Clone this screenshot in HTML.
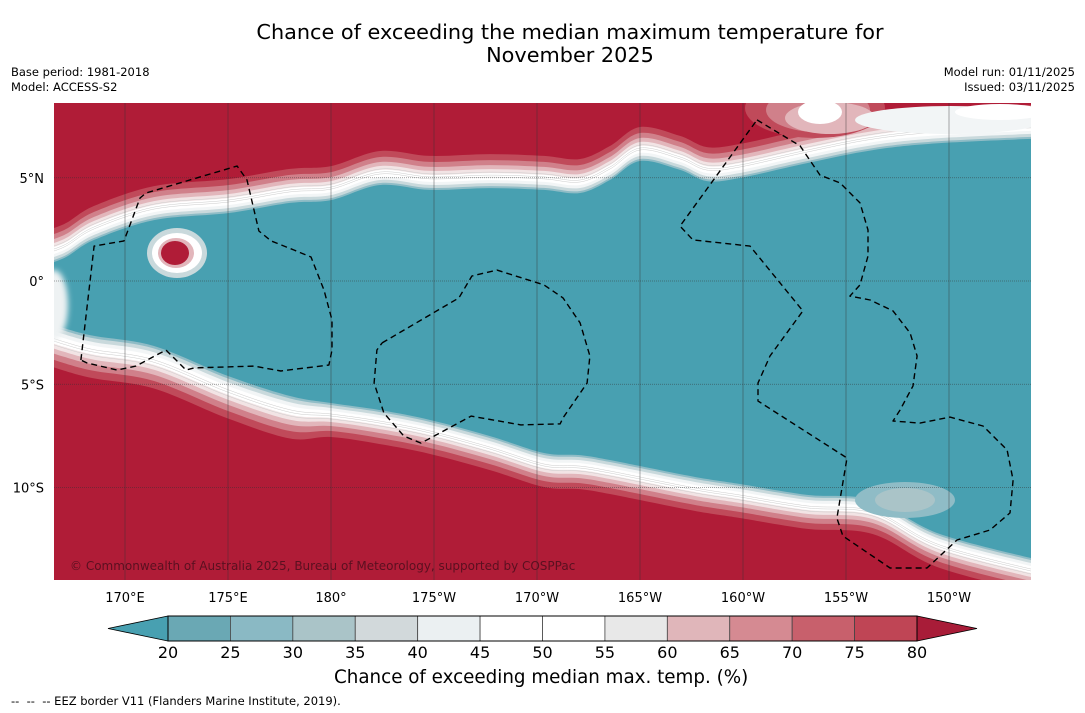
<!DOCTYPE html>
<html><head><meta charset="utf-8">
<style>
html,body{margin:0;padding:0;background:#fff;width:1085px;height:713px;overflow:hidden;font-family:"DejaVu Sans","Liberation Sans",sans-serif;}
.t{position:absolute;color:#000;white-space:nowrap}
</style></head>
<body>
<div class="t" style="left:0;width:1140px;top:21px;text-align:center;font-size:20.8px;line-height:23px;">Chance of exceeding the median maximum temperature for<br>November 2025</div>
<div class="t" style="left:11px;top:65px;font-size:11.5px;line-height:15px;">Base period: 1981-2018<br>Model: ACCESS-S2</div>
<div class="t" style="right:10px;top:65px;font-size:11.5px;line-height:15px;text-align:right;">Model run: 01/11/2025<br>Issued: 03/11/2025</div>
<svg id="map" width="1085" height="713" style="position:absolute;left:0;top:0"></svg>
<div class="t" style="left:334px;top:667px;font-size:18.3px;">Chance of exceeding median max. temp. (%)</div>
<div class="t" style="left:11px;top:694px;font-size:11.5px;">--&nbsp; --&nbsp; -- EEZ border V11 (Flanders Marine Institute, 2019).</div>
<script>
// ---- data ----
const lonTicks=[170,175,180,185,190,195,200,205,210];
const lonTickLabels=["170°E","175°E","180°","175°W","170°W","165°W","160°W","155°W","150°W"];
const latTicks=[5,0,-5,-10];
const latTickLabels=["5°N","0°","5°S","10°S"];
const bandLons=[166.55,167.04,168.50,171.41,175.00,178.01,180.00,182.38,184.81,187.72,190.34,192.09,193.54,195.00,196.94,198.25,199.85,203.11,206.31,209.56,213.98];
const northLat=[0.63,1.11,1.99,2.95,3.29,3.78,3.92,4.65,4.41,4.50,4.41,4.26,4.89,5.81,5.38,4.84,4.99,5.71,6.34,6.68,6.92];
const southLat=[-1.79,-2.28,-2.66,-3.15,-4.60,-5.57,-5.91,-6.25,-6.73,-7.51,-8.33,-8.43,-8.67,-8.96,-9.35,-9.59,-9.83,-10.36,-10.61,-12.25,-13.65];
const cbValues=[20,25,30,35,40,45,50,55,60,65,70,75,80];
const cbColors=["#6aa8b4","#8ab9c4","#aac4c8","#d2d9db","#ebf0f2","#ffffff","#ffffff","#e8e8e8","#e0b6ba","#d58a92","#c8606c","#bf4555"];
const eez1Lon=[167.86,168.50,169.95,170.73,171.02,175.44,175.92,176.50,177.09,178.20,179.03,179.66,180.05,180.05,179.90,177.57,176.26,173.35,172.96,171.99,170.53,169.61,168.16,167.86];
const eez1Lat=[-3.83,1.69,1.94,4.02,4.26,5.57,4.89,2.42,1.94,1.50,1.16,-0.44,-1.89,-3.34,-4.07,-4.36,-4.12,-4.21,-4.31,-3.34,-4.12,-4.31,-3.97,-3.83];
const eez2Lon=[182.48,186.21,186.84,188.06,190.34,191.26,192.09,192.57,192.43,191.26,191.12,189.22,186.80,184.37,183.54,182.57,182.09,182.23,182.48];
const eez2Lat=[-3.00,-0.82,0.24,0.53,-0.19,-0.82,-2.03,-3.63,-4.94,-6.63,-6.92,-6.97,-6.54,-7.85,-7.51,-6.39,-4.94,-3.34,-3.00];
const eez3Lon=[200.68,202.77,203.74,204.71,205.68,206.07,206.07,205.68,205.19,206.17,207.28,208.11,208.45,208.25,207.62,207.28,208.59,210.05,211.65,212.82,213.11,212.96,211.99,210.39,208.93,207.14,204.85,204.56,205.05,200.73,200.73,201.31,202.91,200.34,197.57,196.94,200.68];
const eez3Lat=[7.80,6.54,5.13,4.75,3.78,2.47,1.21,-0.19,-0.73,-0.92,-1.45,-2.52,-3.63,-5.08,-6.25,-6.78,-6.88,-6.59,-7.02,-8.18,-9.64,-11.23,-12.06,-12.54,-13.90,-13.90,-12.35,-11.48,-8.57,-5.81,-4.94,-3.63,-1.45,1.69,1.99,2.66,7.80];
// ---- axes ----
const X0=54,X1=1031,Y0=103,Y1=580;
const X=lon=>331+(lon-180)*20.6;
const Y=lat=>281-lat*20.65;
const NS="http://www.w3.org/2000/svg";
const svg=document.getElementById('map');
function el(t,a,p){const e=document.createElementNS(NS,t);for(const k in a)e.setAttribute(k,a[k]);(p||svg).appendChild(e);return e;}
const defs=el('defs',{});
const cp=el('clipPath',{id:'mc'},defs);el('rect',{x:X0,y:Y0,width:X1-X0,height:Y1-Y0},cp);
const bl=el('filter',{id:'blur',x:'-50%',y:'-50%',width:'200%',height:'200%'},defs);el('feGaussianBlur',{stdDeviation:3},bl);
const g=el('g',{'clip-path':'url(#mc)'});
const bg=el('rect',{x:X0,y:Y0,width:X1-X0,height:Y1-Y0,fill:'#b01c37'},g);


function smooth(pts){
  let d='M'+pts[0][0].toFixed(1)+','+pts[0][1].toFixed(1);
  for(let i=0;i<pts.length-1;i++){
    const p0=pts[Math.max(i-1,0)],p1=pts[i],p2=pts[i+1],p3=pts[Math.min(i+2,pts.length-1)];
    const c1=[p1[0]+(p2[0]-p0[0])/6,p1[1]+(p2[1]-p0[1])/6],c2=[p2[0]-(p3[0]-p1[0])/6,p2[1]-(p3[1]-p1[1])/6];
    d+='C'+c1[0].toFixed(1)+','+c1[1].toFixed(1)+' '+c2[0].toFixed(1)+','+c2[1].toFixed(1)+' '+p2[0].toFixed(1)+','+p2[1].toFixed(1);
  }
  return d;
}
function bandPath(off){
  const n=bandLons.map((l,i)=>[X(l)+(i==0?-20:0)+(i==bandLons.length-1?20:0),Y(northLat[i])-off]);
  const s=bandLons.map((l,i)=>[X(l)+(i==0?-20:0)+(i==bandLons.length-1?20:0),Y(southLat[i])+off*(i<6?1.25:1)]).reverse();
  return smooth(n)+'L'+s[0][0]+','+s[0][1]+smooth(s).slice(1).replace(/^[^C]*/,'')+'Z';
}
const layers=[[34,'#c04a5a'],[28,'#d0808a'],[23,'#e2b6bb'],[19,'#f2e4e5'],[15,'#ffffff'],[8,'#f2f5f6'],[5,'#c9d9dc'],[2,'#8fbcc6'],[0,'#48a0b1']];
layers.forEach(([o,c])=>{
  const p=el('path',{d:bandPath(o),fill:c},g);
  
  
});
[11,13,16].forEach(o=>{const p=el('path',{d:bandPath(o),fill:'none',stroke:'#ccc','stroke-width':0.5},g);

});
function blob(name,attrs){const e=el('ellipse',attrs,g);return e;}
blob('left-edge-cap',{cx:54,cy:305,rx:14,ry:35,fill:'#eef2f3',filter:'url(#blur)'});
blob('warm-anomaly-halo-outer',{cx:177,cy:253,rx:30,ry:25,fill:'#c9d9dc'});
blob('warm-anomaly-halo',{cx:177,cy:253,rx:25,ry:20,fill:'#ffffff'});
blob('warm-anomaly-ring',{cx:176,cy:253,rx:18,ry:15,fill:'#e2b6bb'});
blob('warm-anomaly-blob',{cx:175,cy:253,rx:14,ry:12,fill:'#b01c37'});
blob('upper-patch-outer',{cx:815,cy:108,rx:70,ry:30,fill:'#c04a5a'});
blob('upper-patch-mid',{cx:818,cy:110,rx:52,ry:22,fill:'#d0808a'});
blob('upper-patch-pink',{cx:830,cy:118,rx:45,ry:16,fill:'#e2b6bb'});
blob('upper-patch-right',{cx:950,cy:120,rx:95,ry:14,fill:'#f2f5f6'});
blob('upper-patch-right2',{cx:1000,cy:112,rx:45,ry:8,fill:'#ffffff'});
blob('upper-patch-inner',{cx:820,cy:112,rx:22,ry:12,fill:'#ffffff'});
blob('lower-patch-outer',{cx:905,cy:500,rx:50,ry:18,fill:'#8fbcc6'});
blob('lower-patch',{cx:905,cy:500,rx:30,ry:12,fill:'#aac4c8'});
lonTicks.forEach(l=>{const e=el('line',{x1:X(l),x2:X(l),y1:Y0,y2:Y1,stroke:'#333','stroke-width':0.7,'stroke-opacity':0.6},g);

});
latTicks.forEach(l=>{const e=el('line',{x1:X0,x2:X1,y1:Y(l),y2:Y(l),stroke:'#333','stroke-width':0.7,'stroke-opacity':0.6,'stroke-dasharray':'1,1'},g);

});
[[eez1Lon,eez1Lat],[eez2Lon,eez2Lat],[eez3Lon,eez3Lat]].forEach(([lo,la])=>{
  const d=lo.map((l,i)=>(i?'L':'M')+X(l).toFixed(1)+','+Y(la[i]).toFixed(1)).join('');
  const p=el('path',{d:d,fill:'none',stroke:'#000','stroke-width':1.4,'stroke-dasharray':'6,4','stroke-linejoin':'round'},g);
  
  
});
const ct=el('text',{x:70,y:570,'font-size':12,fill:'#5a1020','font-family':'DejaVu Sans, sans-serif'},g);
ct.textContent='© Commonwealth of Australia 2025, Bureau of Meteorology, supported by COSPPac';


lonTicks.forEach((l,i)=>{const t=el('text',{x:X(l),y:602,'font-size':13,'text-anchor':'middle','font-family':'DejaVu Sans, sans-serif'});
t.textContent=lonTickLabels[i];

});
latTicks.forEach((l,i)=>{const t=el('text',{x:44,y:Y(l)+5,'font-size':13,'text-anchor':'end','font-family':'DejaVu Sans, sans-serif'});
t.textContent=latTickLabels[i];

});
const cbX0=168,cbX1=917,cbY=616,cbH=25;
const cbX=v=>cbX0+(v-cbValues[0])/(cbValues[cbValues.length-1]-cbValues[0])*(cbX1-cbX0);
const lt=el('polygon',{points:`${cbX0},${cbY} ${cbX0},${cbY+cbH} 108,${cbY+cbH/2}`,fill:'#48a0b1',stroke:'#000','stroke-width':0.8});


const rt=el('polygon',{points:`${cbX1},${cbY} ${cbX1},${cbY+cbH} 977,${cbY+cbH/2}`,fill:'#a81c38',stroke:'#000','stroke-width':0.8});


cbColors.forEach((c,i)=>{const r=el('rect',{x:cbX(cbValues[i]),y:cbY,width:cbX(cbValues[i+1])-cbX(cbValues[i]),height:cbH,fill:c,stroke:'#444','stroke-width':0.8});

});
el('rect',{x:cbX0,y:cbY,width:cbX1-cbX0,height:cbH,fill:'none',stroke:'#000','stroke-width':1});
cbValues.forEach(v=>{const t=el('text',{x:cbX(v),y:658,'font-size':16,'text-anchor':'middle','font-family':'DejaVu Sans, sans-serif'});
t.textContent=v;

});
</script>
</body></html>
